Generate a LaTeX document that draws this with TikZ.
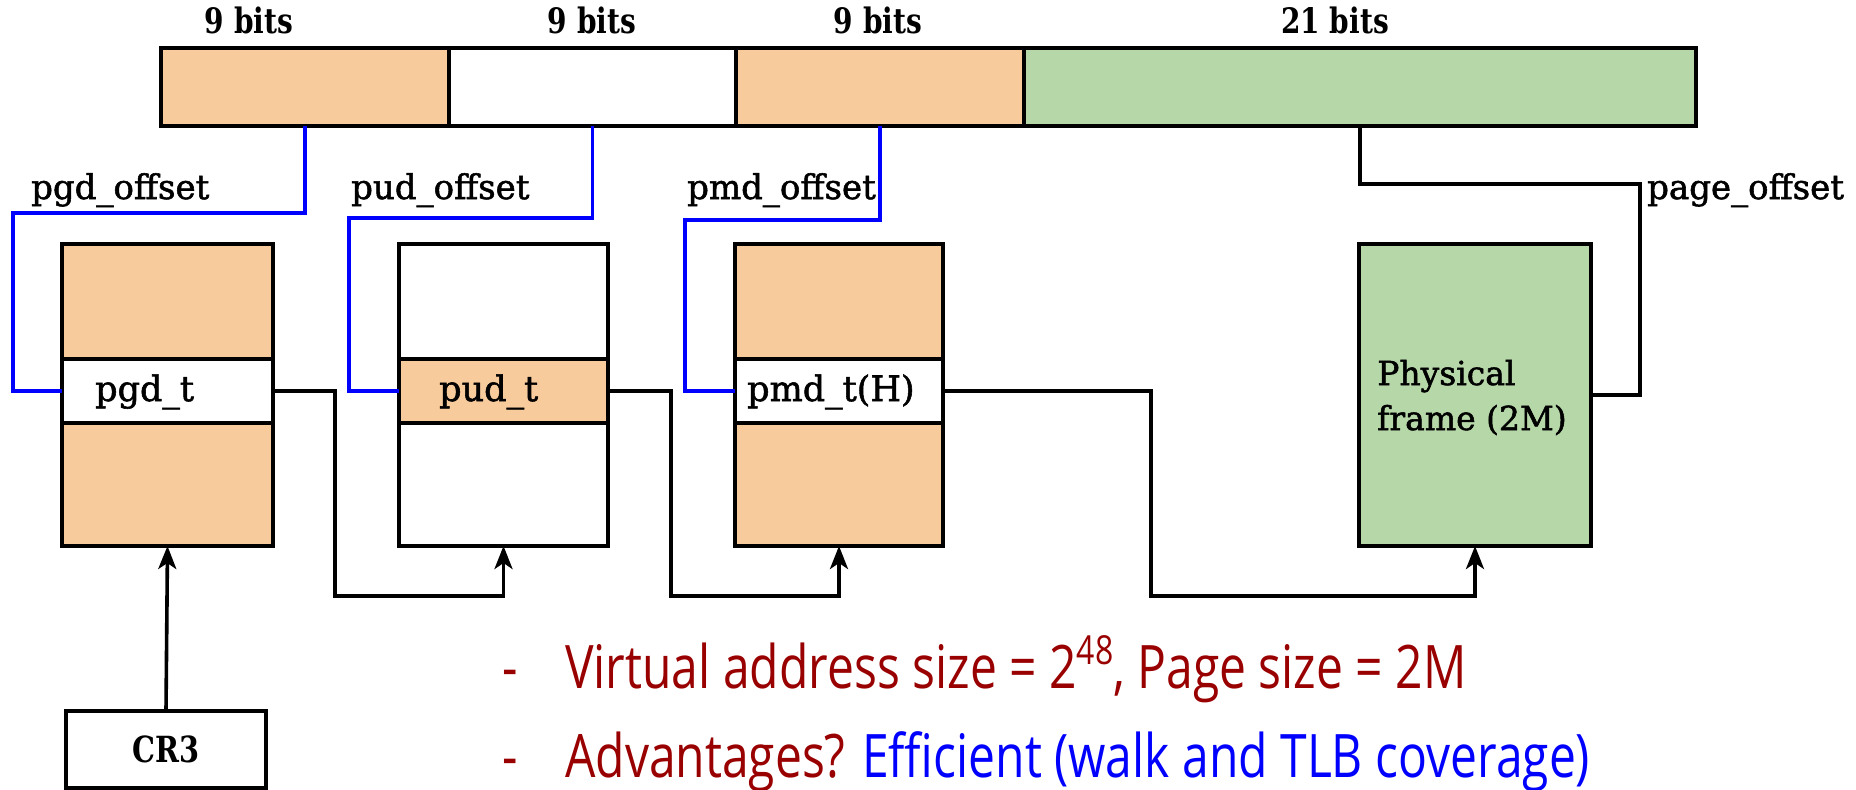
\documentclass[tikz,border=0pt]{standalone}
\usepackage{fontspec}
\setmainfont{DejaVu Serif}
\newfontfamily\slab[FakeBold=1.6]{DejaVu Serif}
\newfontfamily\slabc[FakeStretch=0.8]{DejaVu Serif}
\newfontfamily\bulletfont[FakeStretch=0.8]{Open Sans}
\usetikzlibrary{arrows.meta}
\definecolor{peach}{RGB}{248,203,156}
\definecolor{leaf}{RGB}{182,215,168}
\definecolor{darkred}{RGB}{153,0,0}
\definecolor{pureblue}{RGB}{0,0,255}
\begin{document}
\begin{tikzpicture}[x=1pt,y=-1pt,
  cell/.style={draw=black,line width=3.7pt,inner sep=0pt,outer sep=0pt,anchor=north west},
  bitlbl/.style={font=\slabc\bfseries\fontsize{35}{40}\selectfont,anchor=base},
  offlbl/.style={font=\slab\fontsize{34}{38}\selectfont,anchor=base west,inner sep=0pt},
  rowlbl/.style={font=\slab\fontsize{35}{38}\selectfont,anchor=base west,inner sep=0pt},
  conn/.style={draw=black,line width=3.6pt},
  arr/.style={conn,-{Stealth[length=23pt,width=18pt,inset=6pt]}},
  blueln/.style={draw=pureblue,line width=3.5pt},
  bul/.style={font=\bulletfont\fontsize{60}{72}\selectfont,text=darkred,anchor=base west,inner sep=0pt}]
\useasboundingbox (0,0) rectangle (1856,790);
% address bar
\node[cell,fill=peach,minimum width=288pt,minimum height=78pt] (seg1) at (161,48) {};
\node[cell,fill=white,minimum width=287pt,minimum height=78pt] (seg2) at (449,48) {};
\node[cell,fill=peach,minimum width=288pt,minimum height=78pt] (seg3) at (736,48) {};
\node[cell,fill=leaf,minimum width=672pt,minimum height=78pt] (seg4) at (1024,48) {};
\node[bitlbl] (b1) at (249,33) {9 bits};
\node[bitlbl] (b2) at (592,33) {9 bits};
\node[bitlbl] (b3) at (878,33) {9 bits};
\node[bitlbl] (b4) at (1335,33) {21 bits};
% pgd table
\node[cell,fill=peach,minimum width=211pt,minimum height=115pt] (pgdTop) at (62,244) {};
\node[cell,fill=white,minimum width=211pt,minimum height=64pt] (pgd) at (62,359) {};
\node[cell,fill=peach,minimum width=211pt,minimum height=123pt] (pgdBot) at (62,423) {};
\node[rowlbl] (pgdL) at (95,401) {pgd\_t};
% pud table
\node[cell,fill=white,minimum width=209pt,minimum height=115pt] (pudTop) at (399,244) {};
\node[cell,fill=peach,minimum width=209pt,minimum height=64pt] (pud) at (399,359) {};
\node[cell,fill=white,minimum width=209pt,minimum height=123pt] (pudBot) at (399,423) {};
\node[rowlbl] (pudL) at (439,401) {pud\_t};
% pmd table
\node[cell,fill=peach,minimum width=208pt,minimum height=115pt] (pmdTop) at (735,244) {};
\node[cell,fill=white,minimum width=208pt,minimum height=64pt] (pmd) at (735,359) {};
\node[cell,fill=peach,minimum width=208pt,minimum height=123pt] (pmdBot) at (735,423) {};
\node[rowlbl] (pmdL) at (747,401) {pmd\_t(H)};
% physical frame
\node[cell,fill=leaf,minimum width=232pt,minimum height=302pt] (phys) at (1359,244) {};
\node[font=\slab\fontsize{33}{45}\selectfont,align=left,anchor=base west,inner sep=0pt] (physL) at (1377,430) {Physical\\frame (2M)};
% CR3
\node[cell,fill=white,minimum width=200pt,minimum height=77pt] (cr3) at (66,711) {};
\node[font=\slabc\bfseries\fontsize{36}{40}\selectfont] (cr3L) at (cr3.center) {CR3};
% offset labels
\node[offlbl] (pgdO) at (31,199) {pgd\_offset};
\node[offlbl] (pudO) at (351,199) {pud\_offset};
\node[offlbl] (pmdO) at (687,199) {pmd\_offset};
\node[offlbl] (pageO) at (1647,199) {page\_offset};
% blue offset lines
\coordinate (c1) at (13,213);
\coordinate (c2) at (349,218);
\coordinate (c3) at (685,220);
\draw[blueln] (seg1.south) |- (c1) |- (pgd.west);
\draw[blueln] (seg2.south) |- (c2) |- (pud.west);
\draw[blueln] (seg3.south) |- (c3) |- (pmd.west);
% page offset
\coordinate (c4) at (1640,184);
\draw[conn] (seg4.south) |- (c4) |- (phys.east);
% walk connectors
\coordinate (low) at (0,596);
\draw[arr] (pgd.east) -- ++(62,0) |- (pudBot.south |- low) -- (pudBot.south);
\draw[arr] (pud.east) -- ++(63,0) |- (pmdBot.south |- low) -- (pmdBot.south);
\draw[arr] (pmd.east) -- ++(208,0) |- (phys.south |- low) -- (phys.south);
\draw[arr] (cr3.north) -- (pgdBot.south);
% bullets
\node[bul] (d1) at (502,688) {-};
\node[bul] (t1) at (565,688) {Virtual address size = 2\raisebox{0.4em}{\fontsize{40}{44}\selectfont 48}, Page size = 2M};
\node[bul] (d2) at (502,777) {-};
\node[bul] (t2) at (565,777) {Advantages? \textcolor{pureblue}{Efficient (walk and TLB coverage)}};
\end{tikzpicture}
\end{document}
